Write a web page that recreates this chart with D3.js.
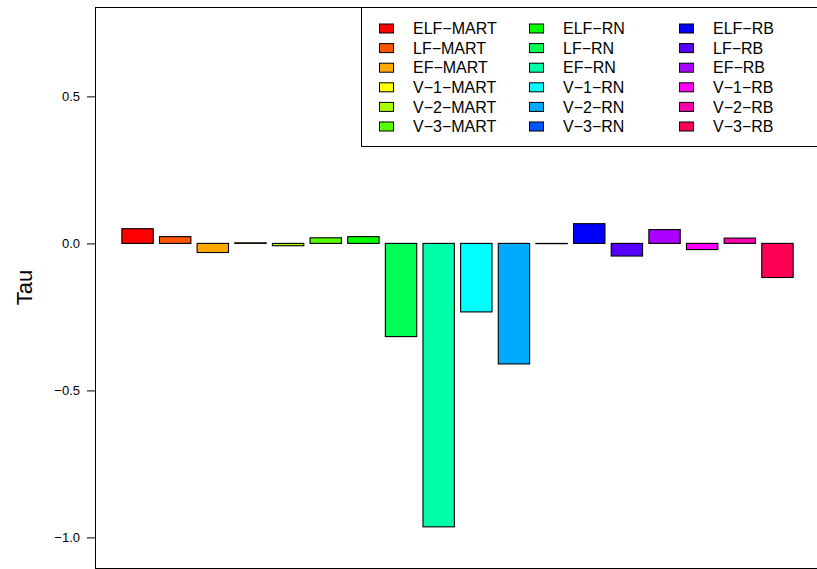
<!DOCTYPE html>
<html>
<head>
<meta charset="utf-8">
<script src="https://cdn.jsdelivr.net/npm/d3@7"></script>
<style>
  html, body { margin: 0; padding: 0; background: #fff; }
  svg { display: block; }
  text { font-family: "Liberation Sans", Arial, Helvetica, sans-serif; fill: #000; }
</style>
</head>
<body>
<svg id="chart" width="817" height="569"></svg>
<script>
// Model labels (one bar each)
const categories = [
  "ELF\u2212MART", "LF\u2212MART", "EF\u2212MART", "V\u22121\u2212MART", "V\u22122\u2212MART", "V\u22123\u2212MART",
  "ELF\u2212RN", "LF\u2212RN", "EF\u2212RN", "V\u22121\u2212RN", "V\u22122\u2212RN", "V\u22123\u2212RN",
  "ELF\u2212RB", "LF\u2212RB", "EF\u2212RB", "V\u22121\u2212RB", "V\u22122\u2212RB", "V\u22123\u2212RB"
];

// Kendall's tau per model
const tauValues = [
  0.050, 0.023, -0.031, 0.002, -0.008, 0.019,
  0.023, -0.317, -0.964, -0.233, -0.410, -0.001,
  0.067, -0.043, 0.047, -0.021, 0.018, -0.116
];

// rainbow(18) palette
const barColors = [
  "#FF0000", "#FF5500", "#FFAA00", "#FFFF00", "#AAFF00", "#55FF00",
  "#00FF00", "#00FF55", "#00FFAA", "#00FFFF", "#00AAFF", "#0055FF",
  "#0000FF", "#5500FF", "#AA00FF", "#FF00FF", "#FF00AA", "#FF0055"
];

const yTicks = [-1.0, -0.5, 0.0, 0.5];
const yTickLabels = ["\u22121.0", "\u22120.5", "0.0", "0.5"];
const yTitle = "Tau";

const svg = d3.select("#chart");

// Plot region (right edge runs just past the window)
const plot = { left: 95, right: 820, top: 7, bottom: 568 };

// Bar layout in barplot units: width 1, space 0.2
const barWidth = 1, barSpace = 0.2;
const n = tauValues.length;
const xMin = barSpace, xMax = n * (barWidth + barSpace);
const xPad = 0.04 * (xMax - xMin);

const x = d3.scaleLinear()
  .domain([xMin - xPad, xMax + xPad])
  .range([plot.left, plot.right]);

const y = d3.scaleLinear()
  .domain([-1.104, 0.804])
  .range([plot.bottom, plot.top]);

// Bars
svg.append("g")
  .selectAll("rect")
  .data(tauValues)
  .join("rect")
  .attr("x", (d, i) => x(barSpace + i * (barWidth + barSpace)))
  .attr("width", (d, i) => x(barSpace + i * (barWidth + barSpace) + barWidth) - x(barSpace + i * (barWidth + barSpace)))
  .attr("y", d => Math.min(y(d), y(0)))
  .attr("height", d => Math.max(Math.abs(y(d) - y(0)), 0.01))
  .attr("fill", (d, i) => barColors[i])
  .attr("stroke", "#000")
  .attr("stroke-width", 1.1);

// Y axis
const yAxis = d3.axisLeft(y)
  .tickValues(yTicks)
  .tickFormat((d, i) => yTickLabels[i])
  .tickSizeOuter(0)
  .tickSizeInner(8)
  .tickPadding(7);

const gy = svg.append("g")
  .attr("transform", `translate(${plot.left},0)`)
  .call(yAxis);
gy.select(".domain").remove();
gy.selectAll(".tick line").attr("stroke", "#000");
gy.selectAll(".tick text")
  .style("font-size", "13px")
  .style("font-family", "'Liberation Sans', Arial, sans-serif")
  .attr("fill", "#000");

// Axis title
svg.append("text")
  .attr("transform", `translate(32,${(plot.top + plot.bottom) / 2}) rotate(-90)`)
  .attr("text-anchor", "middle")
  .style("font-size", "22px")
  .text(yTitle);

// Plot frame
svg.append("rect")
  .attr("x", plot.left + 0.5)
  .attr("y", plot.top + 0.5)
  .attr("width", plot.right - plot.left)
  .attr("height", plot.bottom - plot.top)
  .attr("fill", "none")
  .attr("stroke", "#000")
  .attr("stroke-width", 1);

// Legend (3 columns, filled column-wise)
const legend = { left: 361, top: 7, bottom: 146, right: 830 };
const legendRows = 6;
const colStep = 150;
const rowStep = 19.6;
const firstRowY = 28.5;

svg.append("rect")
  .attr("x", legend.left + 0.5)
  .attr("y", legend.top + 0.5)
  .attr("width", legend.right - legend.left)
  .attr("height", legend.bottom - legend.top)
  .attr("fill", "#fff")
  .attr("stroke", "#000")
  .attr("stroke-width", 1);

const items = svg.append("g")
  .selectAll("g")
  .data(categories)
  .join("g")
  .attr("transform", (d, i) => {
    const col = Math.floor(i / legendRows), row = i % legendRows;
    return `translate(${legend.left + 18 + col * colStep},${firstRowY + row * rowStep})`;
  });

items.append("rect")
  .attr("x", 0.5)
  .attr("y", -4.5)
  .attr("width", 14)
  .attr("height", 9)
  .attr("fill", (d, i) => barColors[i])
  .attr("stroke", "#000")
  .attr("stroke-width", 1);

items.append("text")
  .attr("x", 34)
  .attr("y", 0)
  .attr("dy", "0.36em")
  .style("font-size", "16px")
  .text(d => d);
</script>
</body>
</html>
